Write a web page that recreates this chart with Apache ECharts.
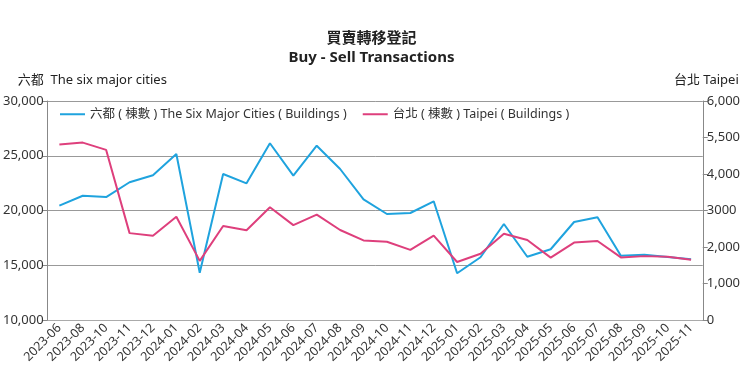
<!DOCTYPE html>
<html><head><meta charset="utf-8">
<script src="https://cdn.jsdelivr.net/npm/echarts@6/dist/echarts.min.js"></script>
<style>html,body{margin:0;padding:0;background:#fff}#c{width:743px;height:380px}</style>
</head><body><div id="c"></div>
<script>
const categories = ['2023-06','2023-08','2023-10','2023-11','2023-12','2024-01','2024-02','2024-03','2024-04','2024-05','2024-06','2024-07','2024-08','2024-09','2024-10','2024-11','2024-12','2025-01','2025-02','2025-03','2025-04','2025-05','2025-06','2025-07','2025-08','2025-09','2025-10','2025-11'];
const sixCities = [20450,21350,21230,22580,23220,25160,14320,23330,22480,26140,23180,25920,23790,21020,19680,19770,20840,14270,15730,18770,15780,16460,18950,19380,15870,15960,15750,15550];
const taipei = [4810,4860,4660,2380,2310,2830,1620,2575,2460,3090,2600,2885,2465,2180,2145,1920,2310,1590,1815,2365,2190,1710,2120,2165,1715,1750,1735,1650];
const leftTicks = ['10,000','15,000','20,000','25,000','30,000'];
const rightTicks = ['0','1,000','2,000','3000','4,000','5,500','6,000'];
const FONT = '"Noto Sans", "Noto Sans CJK TC", sans-serif';
const chart = echarts.init(document.getElementById('c'));
chart.setOption({
  animation:false,
  textStyle:{fontFamily:FONT},
  title:{text:'買賣轉移登記\nBuy - Sell Transactions',left:'center',top:24,
    textStyle:{fontSize:15,fontWeight:'bold',color:'#222',lineHeight:19,fontFamily:FONT}},
  legend:{top:103,left:55,itemWidth:25,itemHeight:2,icon:'rect',itemGap:16,
    textStyle:{fontSize:12.5,color:'#333',fontFamily:FONT},
    data:['六都 ( 棟數 ) The Six Major Cities ( Buildings )','台北 ( 棟數 ) Taipei ( Buildings )']},
  grid:{left:44,right:39,top:101,bottom:60},
  xAxis:{type:'category',data:categories,boundaryGap:true,
    axisLine:{lineStyle:{color:'#aaa',width:1}},
    axisTick:{alignWithLabel:true,lineStyle:{color:'#888'}},
    axisLabel:{rotate:45,fontSize:12.5,color:'#333',interval:0,margin:6}},
  yAxis:[
    {type:'value',min:10000,max:30000,interval:5000,position:'left',
     name:'六都  The six major cities',nameLocation:'end',nameGap:14,
     nameTextStyle:{align:'left',padding:[0,0,0,-30],fontSize:13,color:'#222'},
     axisLine:{show:true,lineStyle:{color:'#888'}},axisTick:{show:true,length:5,lineStyle:{color:'#888'}},
     splitLine:{show:true,lineStyle:{color:'#999',width:1}},
     axisLabel:{fontSize:13,color:'#333',margin:4,formatter:(v)=>leftTicks[Math.round((v-10000)/5000)]}},
    {type:'value',min:0,max:6000,interval:1000,position:'right',
     name:'台北 Taipei',nameLocation:'end',nameGap:14,
     nameTextStyle:{align:'right',padding:[0,-36,0,0],fontSize:13,color:'#222'},
     axisLine:{show:true,lineStyle:{color:'#888'}},axisTick:{show:true,length:5,lineStyle:{color:'#888'}},
     splitLine:{show:false},
     axisLabel:{fontSize:13,color:'#333',margin:4,formatter:(v)=>rightTicks[Math.round(v/1000)]}}
  ],
  series:[
    {name:'六都 ( 棟數 ) The Six Major Cities ( Buildings )',type:'line',yAxisIndex:0,data:sixCities,
     symbol:'none',lineStyle:{width:2,color:'#1fa3de'},itemStyle:{color:'#1fa3de'}},
    {name:'台北 ( 棟數 ) Taipei ( Buildings )',type:'line',yAxisIndex:1,data:taipei,
     symbol:'none',lineStyle:{width:2,color:'#de3f7c'},itemStyle:{color:'#de3f7c'}}
  ]
});
</script></body></html>
